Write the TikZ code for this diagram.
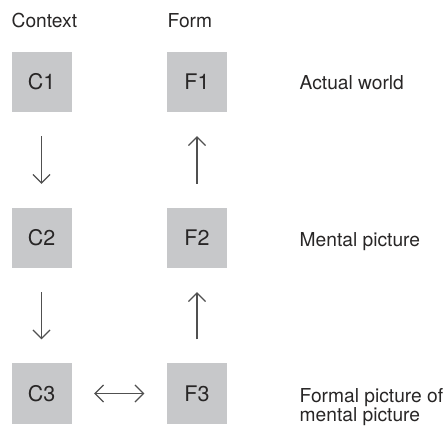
\documentclass[tikz,border=0pt]{standalone}
\usepackage{fontspec}
\setmainfont{TeX Gyre Heros}
\usetikzlibrary{arrows.meta}
\definecolor{boxgray}{RGB}{199,200,202}
\definecolor{txt}{RGB}{40,38,38}
\definecolor{arr}{RGB}{80,80,80}
\tikzset{
  stagebox/.style={fill=boxgray, draw=none, minimum width=60pt, minimum height=60pt, inner sep=0pt, text=txt, font=\fontsize{21.5}{24}\selectfont},
  lbl/.style={anchor=base west, inner sep=0pt, text=txt, font=\fontsize{19.2}{17.7}\selectfont},
  flow/.style={draw=arr, line width=1.2pt, -{Straight Barb[length=8.5pt,width=17pt,line width=1.2pt]}, shorten <=24pt, shorten >=24pt},
  both/.style={draw=arr, line width=1.2pt, {Straight Barb[length=8.5pt,width=17pt,line width=1.2pt]}-{Straight Barb[length=8.5pt,width=17pt,line width=1.2pt]}, shorten <=22.5pt, shorten >=22.5pt}
}
\begin{document}
\begin{tikzpicture}[x=1pt,y=-1pt]
\useasboundingbox (0,0) rectangle (447,427);
\node[stagebox] (C1) at (41.5,82) {C1};
\node[stagebox] (C2) at (41.5,238) {C2};
\node[stagebox] (C3) at (41.5,393.5) {C3};
\node[stagebox] (F1) at (197,82) {F1};
\node[stagebox] (F2) at (197,238) {F2};
\node[stagebox] (F3) at (197,393.5) {F3};
\node[lbl] (hc) at (11.5,28) {Context};
\node[lbl] (hf) at (167.5,28) {Form};
\node[lbl] (l1) at (299.5,90) {Actual world};
\node[lbl] (l2) at (299.5,246.5) {Mental picture};
\node[lbl] (l3) at (299.5,402.3) {\vtop{\hbox{Formal picture of}\hbox{mental picture}}};
\draw[flow] (C1) -- (C2);
\draw[flow] (C2) -- (C3);
\draw[flow] (F2) -- (F1);
\draw[flow] (F3) -- (F2);
\draw[both] (C3) -- (F3);
\end{tikzpicture}
\end{document}
